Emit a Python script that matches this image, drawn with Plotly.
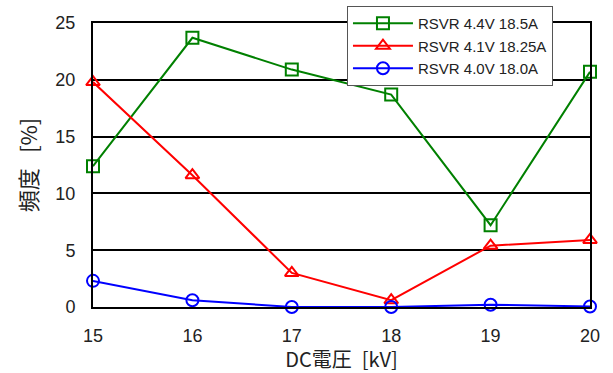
import plotly.graph_objects as go

voltage = [15, 16, 17, 18, 19, 20]
s44 = [12.4, 23.7, 20.9, 18.7, 7.2, 20.7]
s41 = [19.8, 11.6, 3.0, 0.6, 5.4, 5.9]
s40 = [2.3, 0.6, 0.0, 0.0, 0.2, 0.05]
names = ["RSVR 4.4V 18.5A", "RSVR 4.1V 18.25A", "RSVR 4.0V 18.0A"]

font = "Liberation Sans, Noto Sans CJK JP, sans-serif"
cjk = "'Noto Sans CJK JP'"

fig = go.Figure()
fig.add_trace(go.Scatter(x=voltage, y=s44, name=names[0], mode="lines+markers",
                         line=dict(color="#008000", width=2),
                         marker=dict(symbol="square-open", size=12, color="#008000", line=dict(width=2)),
                         cliponaxis=False))
fig.add_trace(go.Scatter(x=voltage, y=s41, name=names[1], mode="lines+markers",
                         line=dict(color="#ff0000", width=2),
                         marker=dict(symbol="triangle-up-open", size=12, color="#ff0000", line=dict(width=2)),
                         cliponaxis=False))
fig.add_trace(go.Scatter(x=voltage, y=s40, name=names[2], mode="lines+markers",
                         line=dict(color="#0000ff", width=2),
                         marker=dict(symbol="circle-open", size=12, color="#0000ff", line=dict(width=2)),
                         cliponaxis=False))

fig.update_layout(
    width=613, height=373,
    margin=dict(l=93, r=23, t=23, b=66, autoexpand=False),
    paper_bgcolor="white", plot_bgcolor="white",
    font=dict(family=font, size=18, color="#222"),
    showlegend=True,
    legend=dict(x=0.511, y=1.06, xanchor="left", yanchor="top",
                bgcolor="white", bordercolor="#555", borderwidth=1,
                font=dict(size=15, color="#222"), tracegroupgap=0,
                itemwidth=60),
    xaxis=dict(range=[15, 20], tickvals=voltage, showgrid=False, zeroline=False,
               showline=True, linecolor="black", linewidth=2, mirror=True,
               ticks="outside", ticklen=11, tickcolor="rgba(0,0,0,0)",
               tickfont=dict(size=18),
               title=dict(text="DC電圧\u2002[kV]", standoff=3, font=dict(size=20, family=cjk))),
    yaxis=dict(range=[0, 25], dtick=5, showgrid=True, gridcolor="black", gridwidth=1.5,
               zeroline=False, showline=True, linecolor="black", linewidth=2, mirror=True,
               ticks="outside", ticklen=12, tickcolor="rgba(0,0,0,0)",
               tickfont=dict(size=18),
               title=dict(text="頻度\u2002\u2009[%]", standoff=12, font=dict(size=22, family=cjk))),
)

fig.write_html("out.html")
